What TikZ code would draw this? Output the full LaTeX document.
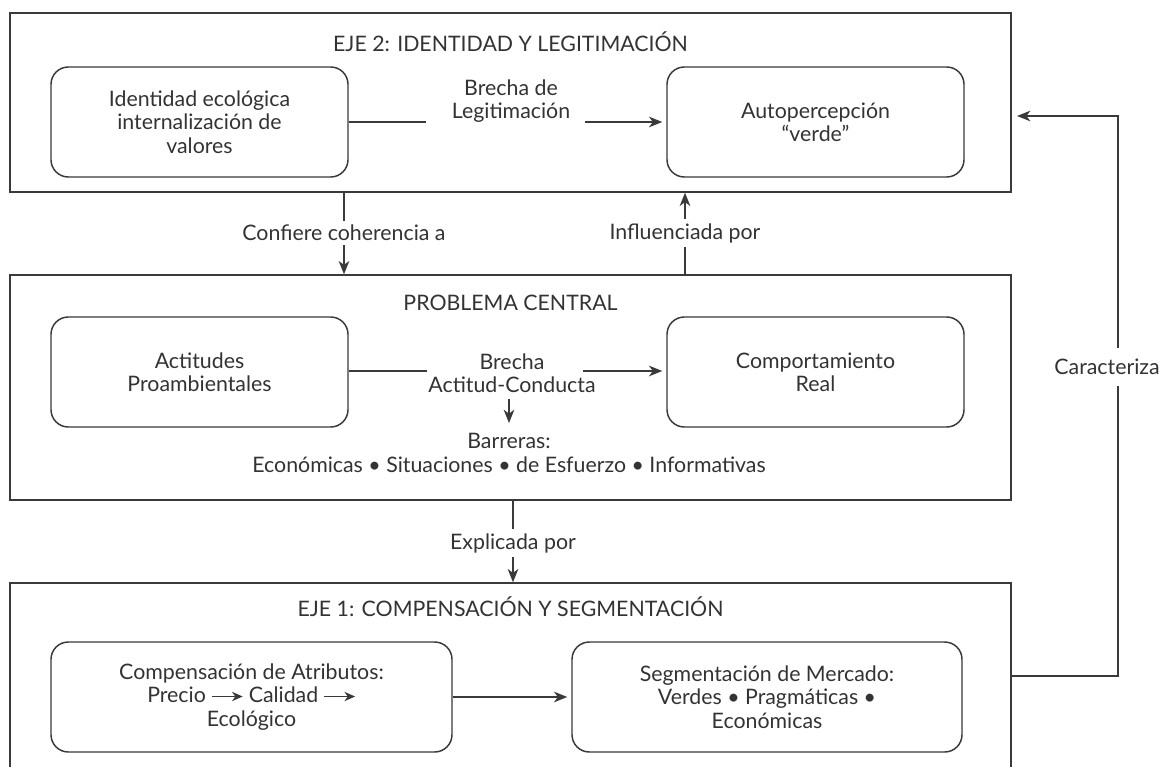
\documentclass[tikz,border=0pt]{standalone}
\usepackage{fontspec}
\setmainfont{Lato}
\usetikzlibrary{arrows.meta}
\definecolor{ink}{HTML}{333333}
\definecolor{edge}{HTML}{3A3A3A}
\newcommand{\fs}{\fontsize{16}{17.5}\selectfont}
\newcommand{\harr}{\tikz[baseline=0pt]\draw[edge,line width=1pt,-{Stealth[length=8pt,width=7pt,inset=2.5pt]}](0pt,0.3em)--(23pt,0.3em);}
\begin{document}
\begin{tikzpicture}[x=0.75pt,y=-0.75pt,
  frame/.style={draw=edge, line width=1.1pt, rectangle, inner sep=0pt},
  rbox/.style={draw=edge, line width=1.1pt, rounded corners=13pt, align=center, minimum height=110*0.75pt, text=ink, font=\fs, inner sep=2pt},
  ttl/.style={text=ink, font=\fs, inner sep=1pt},
  lab/.style={text=ink, font=\fs, align=center, inner sep=1pt},
  wlab/.style={lab, fill=white, inner sep=3pt},
  conn/.style={draw=edge, line width=1.1pt},
  arr/.style={conn, -{Stealth[length=10pt,width=8pt,inset=3pt]}, shorten >=3pt}
]
\useasboundingbox (0,0) rectangle (1163,767);
\clip (0,0) rectangle (1163,767);
\fill[white] (0,0) rectangle (1163,767);

% frames
\node[frame, minimum width=1001*0.75pt, minimum height=179*0.75pt] (f2) at (510.5,102.5) {};
\node[frame, minimum width=1001*0.75pt, minimum height=225*0.75pt] (f0) at (510.5,387.5) {};
\node[frame, minimum width=1001*0.75pt, minimum height=300*0.75pt] (f1) at (510.5,733) {};

% titles
\node[ttl] (t2) at (510.5,42) {EJE 2: IDENTIDAD Y LEGITIMACIÓN};
\node[ttl] (t0) at (510.5,303) {PROBLEMA CENTRAL};
\node[ttl] (t1) at (510.5,607) {EJE 1: COMPENSACIÓN Y SEGMENTACIÓN};

% boxes
\node[rbox, minimum width=297*0.75pt] (idb) at (199.5,122) {Identidad ecológica\\internalización de\\valores};
\node[rbox, minimum width=297*0.75pt] (autob) at (815.5,122) {Autopercepción\\“verde”};
\node[rbox, minimum width=297*0.75pt] (actb) at (199.5,372) {Actitudes\\Proambientales};
\node[rbox, minimum width=297*0.75pt] (compb) at (815.5,372) {Comportamiento\\Real};
\node[rbox, minimum width=401*0.75pt] (cmpb) at (251.5,697) {Compensación de Atributos:\\Precio \harr{} Calidad \harr\\Ecológico};
\node[rbox, minimum width=390*0.75pt] (segb) at (767,697) {Segmentación de Mercado:\\Verdes • Pragmáticas •\\Económicas};

% inner labels
\node[lab] (bl) at (511,101) {Brecha de\\Legitimación};
\node[lab] (bac) at (512,373.5) {Brecha\\Actitud-Conducta};
\node[lab] (bar) at (509,453) {Barreras:\\Económicas • Situaciones • de Esfuerzo • Informativas};

% coordinates
\coordinate (bl1) at (426,122);
\coordinate (bl2) at (585,122);
\coordinate (ba1) at (427,371);
\coordinate (ba2) at (583,371);
\coordinate (bd1) at (509,399);
\coordinate (bd2) at (509,427);
\coordinate (conf) at (344,0);
\coordinate (infl) at (685,0);
\coordinate (expl) at (513,0);
\coordinate (car1) at (1118,676);
\coordinate (car2) at (1118,116);

% connectors
\draw[conn] (idb.east) -- (bl1);
\draw[arr] (bl2) -- (autob.west);
\draw[conn] (actb.east |- ba1) -- (ba1);
\draw[arr] (ba2) -- (compb.west |- ba2);
\draw[arr] (bd1) -- (bd2);
\draw[arr, shorten >=0pt] (f2.south -| conf) -- (f0.north -| conf);
\draw[arr, shorten >=0pt] (f0.north -| infl) -- (f2.south -| infl);
\draw[arr, shorten >=0pt] (f0.south -| expl) -- (f1.north -| expl);
\draw[arr] (cmpb.east) -- (segb.west);
\draw[arr, shorten >=4pt] (f1.east |- car1) -- (car1) -- (car2) -- (f2.east |- car2);

% connector labels
\node[wlab] (lconf) at (344,233) {Confiere coherencia a};
\node[wlab] (linfl) at (685,233) {Influenciada por};
\node[wlab] (lexpl) at (513,543) {Explicada por};
\node[wlab, inner ysep=8pt, inner xsep=1pt] (lcar) at (1107,367) {Caracteriza};
\end{tikzpicture}
\end{document}
